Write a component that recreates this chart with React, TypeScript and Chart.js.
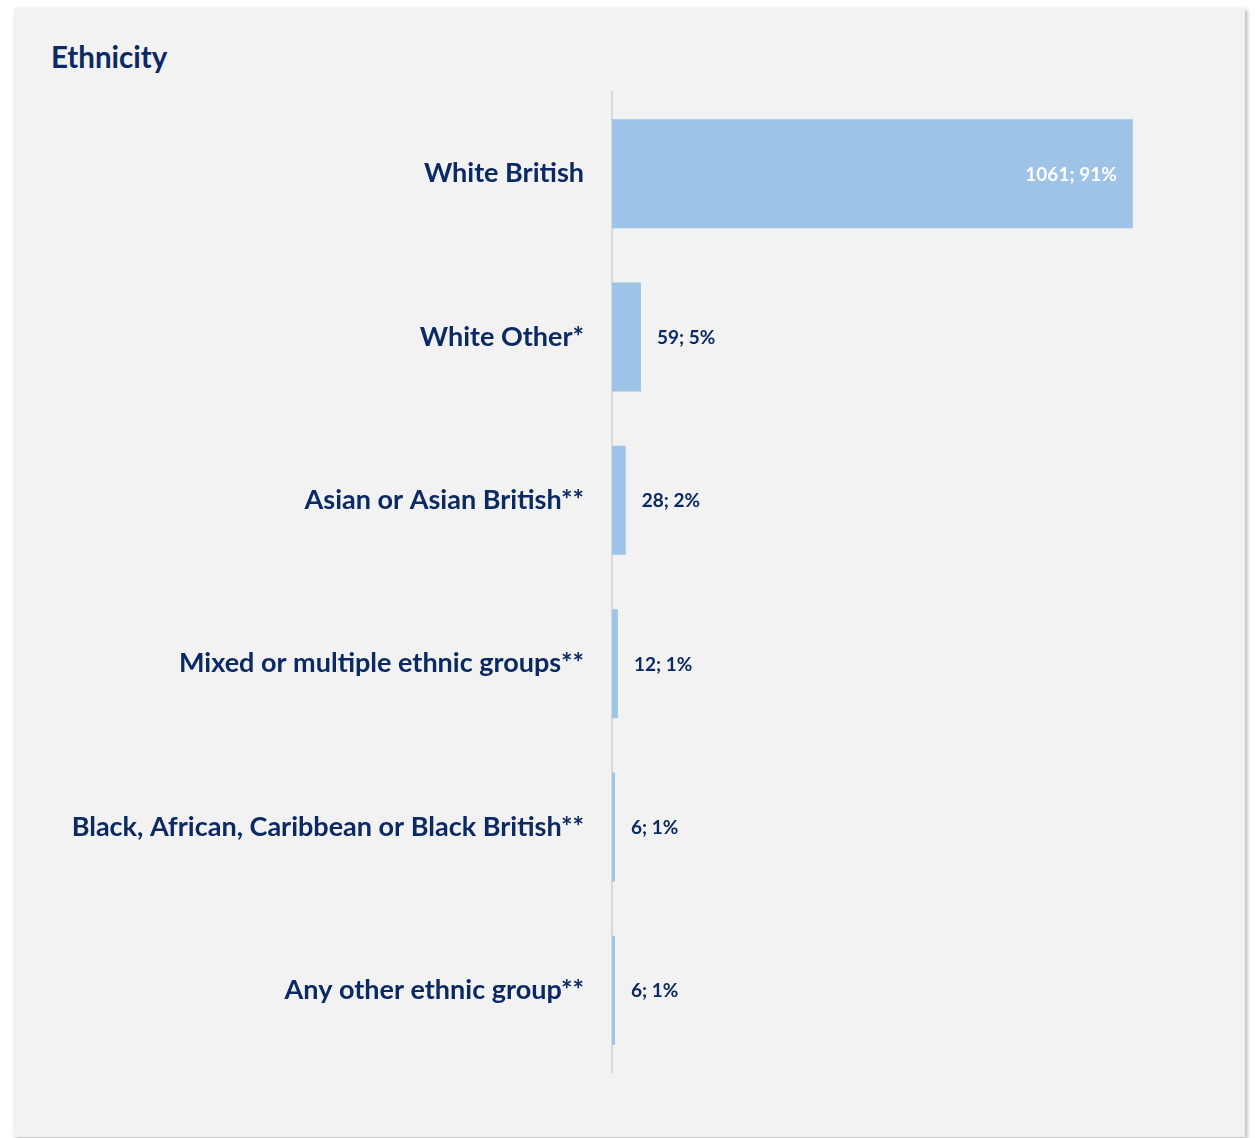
import React, { useEffect, useRef } from "react";
import { Chart, registerables } from "chart.js";

Chart.register(...registerables);

const categories = [
  "White British",
  "White Other*",
  "Asian or Asian British**",
  "Mixed or multiple ethnic groups**",
  "Black, African, Caribbean or Black British**",
  "Any other ethnic group**",
];
const counts = [1061, 59, 28, 12, 6, 6];
const percents = [91, 5, 2, 1, 1, 1];

const FONT = "Lato, 'Open Sans', sans-serif";
const DARK = "#0b2a63";

const labelPlugin = {
  id: "barLabels",
  afterDatasetsDraw(chart: any) {
    const ctx = chart.ctx;
    const meta = chart.getDatasetMeta(0);
    ctx.save();
    ctx.font = `bold 19px ${FONT}`;
    ctx.textBaseline = "middle";
    meta.data.forEach((bar: any, i: number) => {
      const text = `${counts[i]}; ${percents[i]}%`;
      if (i === 0) {
        ctx.fillStyle = "#ffffff";
        ctx.textAlign = "right";
        ctx.fillText(text, bar.x - 16, bar.y + 1);
      } else {
        ctx.fillStyle = DARK;
        ctx.textAlign = "left";
        ctx.fillText(text, bar.x + 16, bar.y + 1);
      }
    });
    ctx.restore();
  },
};

export default function App() {
  const ref = useRef<HTMLCanvasElement>(null);
  useEffect(() => {
    if (!ref.current) return;
    const chart = new Chart(ref.current, {
      type: "bar",
      data: {
        labels: categories,
        datasets: [
          {
            data: counts,
            backgroundColor: "#9dc3e6",
            borderWidth: 0,
            categoryPercentage: 1,
            barPercentage: 0.667,
          },
        ],
      },
      options: {
        indexAxis: "y",
        animation: false,
        responsive: false,
        maintainAspectRatio: false,
        layout: { padding: { top: 84, bottom: 65, right: 44, left: 0 } },
        plugins: {
          legend: { display: false },
          tooltip: { enabled: false },
          title: { display: false },
        },
        scales: {
          x: { display: false, min: 0, max: 1200 },
          y: {
            grid: { display: false, drawTicks: false },
            border: { display: true, color: "#d9d9d9", width: 2 },
            ticks: {
              color: DARK,
              padding: 28,
              font: { family: FONT, size: 27, weight: "bold" },
            },
            afterFit(scale: any) {
              scale.width = 598;
            },
          },
        },
      },
      plugins: [labelPlugin],
    });
    return () => chart.destroy();
  }, []);

  return (
    <div
      style={{
        position: "absolute",
        left: 14,
        top: 8,
        width: 1231,
        height: 1129,
        background: "#f2f2f2",
        boxShadow: "2px 2px 4px rgba(0,0,0,0.3)",
      }}
    >
      <div
        style={{
          position: "absolute",
          left: 37,
          top: 29,
          fontFamily: FONT,
          fontWeight: "bold",
          fontSize: 29.5,
          color: DARK,
          lineHeight: "40px",
        }}
      >
        Ethnicity
      </div>
      <canvas
        ref={ref}
        width={1231}
        height={1129}
        style={{ position: "absolute", left: 0, top: 0, width: 1231, height: 1129 }}
      />
    </div>
  );
}
